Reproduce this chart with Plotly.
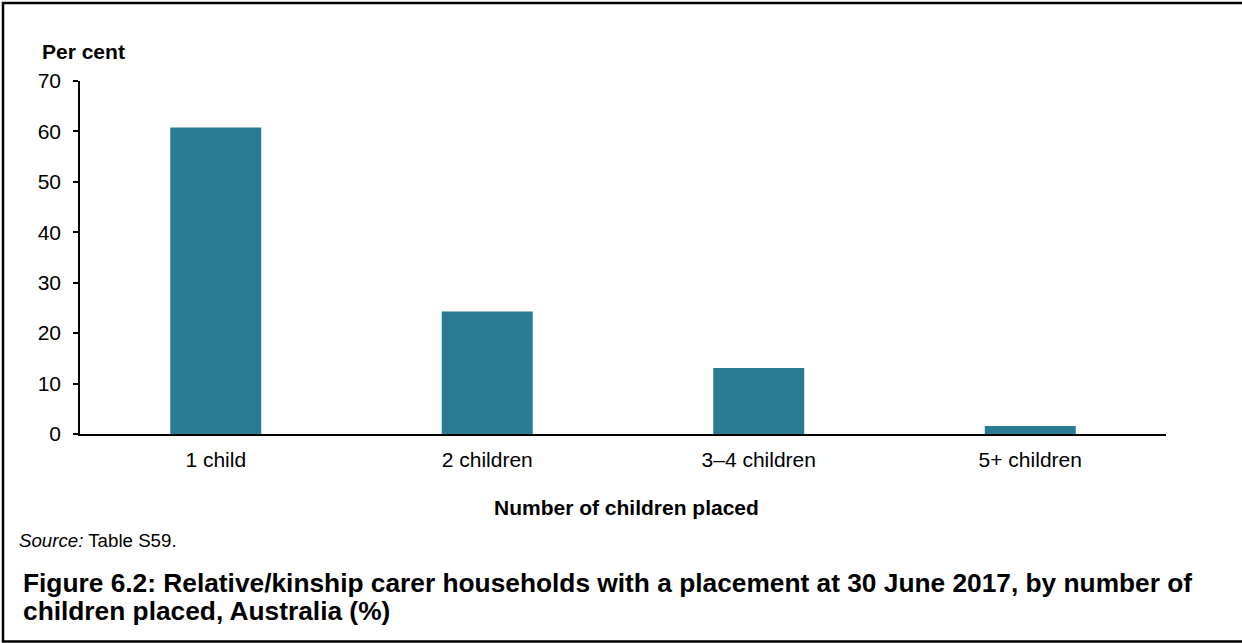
import plotly.graph_objects as go

# data
categories = ["1 child", "2 children", "3–4 children", "5+ children"]
per_cent = [60.8, 24.3, 13.1, 1.6]

y_ticks = [0, 10, 20, 30, 40, 50, 60, 70]

W, H = 1242, 643
# plot area in pixels
L, R, T, B = 80, 1166, 81, 434

FONT = "Arial, Liberation Sans, sans-serif"
BAR = "#2A7B94"


def px_x(x):
    return (x - L) / (R - L)


def px_y(y):
    return (B - y) / (B - T)


fig = go.Figure()
fig.add_trace(go.Bar(
    x=categories, y=per_cent, width=0.335,
    marker=dict(color=BAR, line=dict(width=0)),
    showlegend=False, hoverinfo="x+y",
))

fig.update_layout(
    width=W, height=H,
    margin=dict(l=L, r=W - R, t=T, b=H - B),
    paper_bgcolor="white", plot_bgcolor="white",
    font=dict(family=FONT, size=21, color="black"),
    xaxis=dict(
        showline=True, linecolor="black", linewidth=1.5,
        ticks="", showgrid=False, zeroline=False,
        ticklabelstandoff=6,
        tickfont=dict(size=21),
    ),
    yaxis=dict(
        range=[0, 70], tickvals=y_ticks,
        showline=True, linecolor="black", linewidth=1.5,
        ticks="outside", ticklen=5, tickwidth=1.5, tickcolor="black",
        showgrid=False, zeroline=False,
        ticklabelstandoff=8,
        tickfont=dict(size=21),
    ),
)

ann = [
    dict(text="<b>Per cent</b>", x=px_x(40), y=px_y(51), xanchor="left", yanchor="middle", size=21),
    dict(text="<b>Number of children placed</b>", x=px_x(626), y=px_y(507), xanchor="center", yanchor="middle", size=21),
    dict(text="<i>Source:</i> Table S59.", x=px_x(17), y=px_y(540), xanchor="left", yanchor="middle", size=18.7),
    dict(text="<b>Figure 6.2: Relative/kinship carer households with a placement at 30 June 2017, by number of</b>",
         x=px_x(21), y=px_y(583), xanchor="left", yanchor="middle", size=26.3),
    dict(text="<b>children placed, Australia (%)</b>",
         x=px_x(21), y=px_y(611), xanchor="left", yanchor="middle", size=26.3),
]
for a in ann:
    fig.add_annotation(
        text=a["text"], x=a["x"], y=a["y"], xref="paper", yref="paper",
        xanchor=a["xanchor"], yanchor=a["yanchor"], showarrow=False,
        font=dict(family=FONT, size=a["size"], color="black"),
    )

# outer frame: left, top and bottom edges only (right edge is cut off in the reference)
x_l, x_r = px_x(3), px_x(1250)
y_t, y_b = px_y(3), px_y(641.5)
frame = "M %f,%f L %f,%f L %f,%f L %f,%f" % (x_r, y_t, x_l, y_t, x_l, y_b, x_r, y_b)
fig.add_shape(
    type="path", xref="paper", yref="paper", path=frame,
    line=dict(color="black", width=2.5), layer="above",
)

# drop the browser's default body margin so the figure sits at 0,0
fig.write_html("out.html", config={"displayModeBar": False},
               post_script="document.body.style.margin='0';")
